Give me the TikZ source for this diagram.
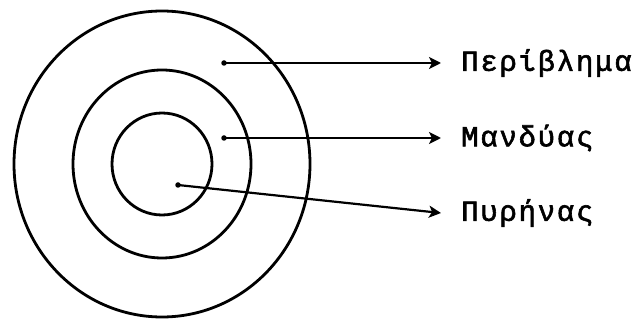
\documentclass[tikz,border=0pt]{standalone}
\usepackage{fontspec}
\newfontfamily\lblfont{Liberation Mono}[LetterSpace=6,FakeBold=2]
\usetikzlibrary{arrows.meta}
\tikzset{
  ring/.style={line width=2.8pt},
  pointer/.style={line width=2.2pt,-{Stealth[length=12pt,width=12pt,inset=3pt]}},
  tag/.style={anchor=west,inner xsep=20pt,inner ysep=0pt,font=\lblfont\fontsize{29}{32}\selectfont},
  spot/.style={circle,fill,inner sep=0pt,minimum size=5.5pt}
}
\begin{document}
\begin{tikzpicture}[x=1pt,y=-1pt]
    \useasboundingbox (0,0) rectangle (640,323);
    % Ομόκεντροι κύκλοι
    \coordinate (c) at (162,164);
    \draw[ring] (c) ellipse [x radius=148, y radius=153];
    \draw[ring] (c) ellipse [x radius=89, y radius=94];
    \draw[ring] (c) ellipse [x radius=50, y radius=51];

    % Ετικέτες
    \node[tag] (periv) at (441,63) {Περίβλημα};
    \node[tag] (mand) at (441,138) {Μανδύας};
    \node[tag] (pyr) at (441,213) {Πυρήνας};

    % Σημεία εκκίνησης
    \node[spot] (s1) at (224,63) {};
    \node[spot] (s2) at (224,138) {};
    \node[spot] (s3) at (178,185) {};

    % Βέλη
    \draw[pointer] (s1.center) -- (periv.west);
    \draw[pointer] (s2.center) -- (mand.west);
    \draw[pointer] (s3.center) -- (pyr.west);
\end{tikzpicture}
\end{document}
